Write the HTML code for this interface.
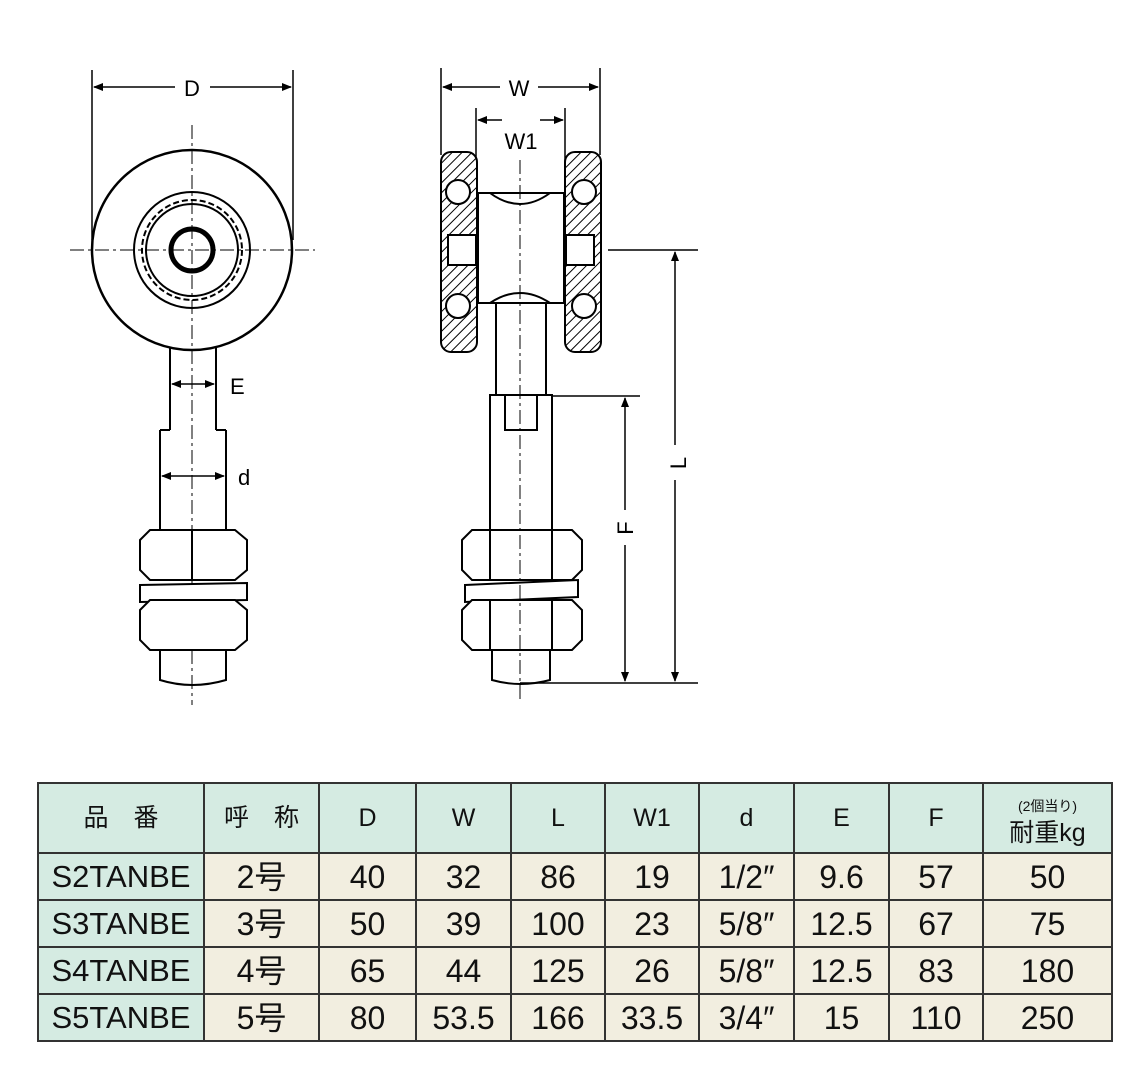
<!DOCTYPE html>
<html><head><meta charset="utf-8"><style>
body{margin:0;background:#fff;width:1142px;height:1068px;position:relative;overflow:hidden;font-family:"Liberation Sans","Noto Sans CJK JP",sans-serif}
svg{position:absolute;left:0;top:0}
table{position:absolute;left:37px;top:782px;border-collapse:collapse;table-layout:fixed}
td{border:2px solid #333;text-align:center;padding:0;font-size:32px;line-height:1;color:#111;background:#f2eee0;white-space:nowrap;overflow:hidden}
tr.h td{background:#d5ebe2;font-size:25px;height:68px}
td.g{background:#d5ebe2;font-size:31px}
tr.b td{height:45px}
</style></head><body>
<svg width="1142" height="770" viewBox="0 0 1142 770">
<defs>
<pattern id="hat" width="7" height="7" patternUnits="userSpaceOnUse" patternTransform="rotate(45)"><rect width="7" height="7" fill="#fff"/><line x1="0" y1="0" x2="0" y2="7" stroke="#000" stroke-width="2"/></pattern>
<marker id="a" markerWidth="10" markerHeight="8" refX="9" refY="4" orient="auto-start-reverse" markerUnits="userSpaceOnUse"><path d="M0,0L10,4L0,8z"/></marker>
</defs>
<g stroke="#000" fill="none" stroke-width="2">
<line x1="92" y1="70" x2="92" y2="240" stroke-width="1.5"/><line x1="293" y1="70" x2="293" y2="240" stroke-width="1.5"/>
<line x1="94" y1="87" x2="175" y2="87" marker-start="url(#a)" stroke-width="1.5"/><line x1="210" y1="87" x2="291" y2="87" marker-end="url(#a)" stroke-width="1.5"/>
<line x1="170" y1="345" x2="170" y2="395"/><line x1="216" y1="345" x2="216" y2="395"/>
<circle cx="192" cy="250" r="100" fill="#fff" stroke-width="2.5"/>
<circle cx="192" cy="250" r="58"/><circle cx="192" cy="250" r="50" stroke-dasharray="6 3"/><circle cx="192" cy="250" r="46"/>
<circle cx="192" cy="250" r="21" stroke-width="5"/>
<line x1="70" y1="250" x2="315" y2="250" stroke-width="1" stroke-dasharray="14 4 3 4"/>
<line x1="192" y1="125" x2="192" y2="705" stroke-width="1" stroke-dasharray="14 4 3 4"/>
<line x1="172" y1="384" x2="214" y2="384" marker-start="url(#a)" marker-end="url(#a)" stroke-width="1.5"/>
<line x1="160" y1="430" x2="160" y2="530"/><line x1="226" y1="430" x2="226" y2="530"/>
<line x1="170" y1="395" x2="170" y2="430"/><line x1="216" y1="395" x2="216" y2="430"/>
<line x1="160" y1="430" x2="170" y2="430"/><line x1="216" y1="430" x2="226" y2="430"/>
<line x1="162" y1="476" x2="224" y2="476" marker-start="url(#a)" marker-end="url(#a)" stroke-width="1.5"/>
<path d="M140,540 L150,530 L235,530 L247,540 L247,570 L235,580 L150,580 L140,570Z" fill="#fff"/>
<line x1="192" y1="530" x2="192" y2="580"/>
<path d="M140,585 L247,583 L247,600 L140,602Z" fill="#fff"/>
<path d="M140,610 L150,600 L235,600 L247,610 L247,640 L235,650 L150,650 L140,640Z" fill="#fff"/>
<path d="M160,650 L160,680 Q192,690 226,680 L226,650"/>
<line x1="441" y1="68" x2="441" y2="155" stroke-width="1.5"/><line x1="600" y1="68" x2="600" y2="155" stroke-width="1.5"/>
<line x1="443" y1="87" x2="500" y2="87" marker-start="url(#a)" stroke-width="1.5"/><line x1="538" y1="87" x2="598" y2="87" marker-end="url(#a)" stroke-width="1.5"/>
<line x1="476" y1="108" x2="476" y2="190" stroke-width="1.5"/><line x1="565" y1="108" x2="565" y2="190" stroke-width="1.5"/>
<line x1="478" y1="120" x2="502" y2="120" marker-start="url(#a)" stroke-width="1.5"/><line x1="540" y1="120" x2="563" y2="120" marker-end="url(#a)" stroke-width="1.5"/>
<rect x="441" y="152" width="36" height="200" rx="10" fill="url(#hat)"/>
<rect x="565" y="152" width="36" height="200" rx="10" fill="url(#hat)"/>
<rect x="448" y="235" width="28" height="30" fill="#fff"/><rect x="566" y="235" width="28" height="30" fill="#fff"/>
<circle cx="458" cy="192" r="12" fill="#fff"/><circle cx="584" cy="192" r="12" fill="#fff"/>
<circle cx="458" cy="306" r="12" fill="#fff"/><circle cx="584" cy="306" r="12" fill="#fff"/>
<rect x="478" y="193" width="86" height="110" fill="#fff"/>
<path d="M490,193 Q520,215 550,193"/><path d="M490,303 Q520,283 550,303"/>
<line x1="496" y1="303" x2="496" y2="395"/><line x1="546" y1="303" x2="546" y2="395"/>
<rect x="490" y="395" width="62" height="135" fill="#fff"/>
<rect x="505" y="395" width="32" height="35"/>
<path d="M462,540 L472,530 L572,530 L582,540 L582,570 L572,580 L472,580 L462,570Z" fill="#fff"/>
<line x1="490" y1="530" x2="490" y2="580"/><line x1="552" y1="530" x2="552" y2="580"/>
<path d="M465,585 L578,580 L578,597 L465,602Z" fill="#fff"/>
<path d="M462,610 L472,600 L572,600 L582,610 L582,640 L572,650 L472,650 L462,640Z" fill="#fff"/>
<line x1="490" y1="600" x2="490" y2="650"/><line x1="552" y1="600" x2="552" y2="650"/>
<path d="M492,650 L492,680 Q520,688 550,680 L550,650"/>
<line x1="520" y1="160" x2="520" y2="700" stroke-width="1" stroke-dasharray="14 4 3 4"/>
<line x1="608" y1="250" x2="698" y2="250" stroke-width="1.5"/>
<line x1="552" y1="396" x2="640" y2="396" stroke-width="1.5"/>
<line x1="520" y1="683" x2="698" y2="683" stroke-width="1.5"/>
<line x1="675" y1="252" x2="675" y2="445" marker-start="url(#a)" stroke-width="1.5"/><line x1="675" y1="480" x2="675" y2="681" marker-end="url(#a)" stroke-width="1.5"/>
<line x1="625" y1="398" x2="625" y2="510" marker-start="url(#a)" stroke-width="1.5"/><line x1="625" y1="545" x2="625" y2="681" marker-end="url(#a)" stroke-width="1.5"/>
</g>
<g font-family="Liberation Sans,sans-serif" font-size="22" fill="#000">
<text x="192" y="96" text-anchor="middle">D</text>
<text x="519" y="96" text-anchor="middle">W</text>
<text x="521" y="149" text-anchor="middle">W1</text>
<text x="230" y="394">E</text>
<text x="238" y="485">d</text>
<text x="686" y="463" transform="rotate(-90 686 463)" text-anchor="middle">L</text>
<text x="633" y="528" transform="rotate(-90 633 528)" text-anchor="middle">F</text>
</g>
</svg>
<table>
<colgroup><col style="width:166px"><col style="width:115px"><col style="width:97px"><col style="width:95px"><col style="width:94px"><col style="width:94px"><col style="width:95px"><col style="width:95px"><col style="width:94px"><col style="width:129px"></colgroup>
<tr class="h"><td>品　番</td><td>呼　称</td><td>D</td><td>W</td><td>L</td><td>W1</td><td>d</td><td>E</td><td>F</td><td style="line-height:1.2"><span style="font-size:14px">(2個当り)</span><br>耐重kg</td></tr>
<tr class="b"><td class="g">S2TANBE</td><td>2号</td><td>40</td><td>32</td><td>86</td><td>19</td><td>1/2″</td><td>9.6</td><td>57</td><td>50</td></tr>
<tr class="b"><td class="g">S3TANBE</td><td>3号</td><td>50</td><td>39</td><td>100</td><td>23</td><td>5/8″</td><td>12.5</td><td>67</td><td>75</td></tr>
<tr class="b"><td class="g">S4TANBE</td><td>4号</td><td>65</td><td>44</td><td>125</td><td>26</td><td>5/8″</td><td>12.5</td><td>83</td><td>180</td></tr>
<tr class="b"><td class="g">S5TANBE</td><td>5号</td><td>80</td><td>53.5</td><td>166</td><td>33.5</td><td>3/4″</td><td>15</td><td>110</td><td>250</td></tr>
</table>
</body></html>
